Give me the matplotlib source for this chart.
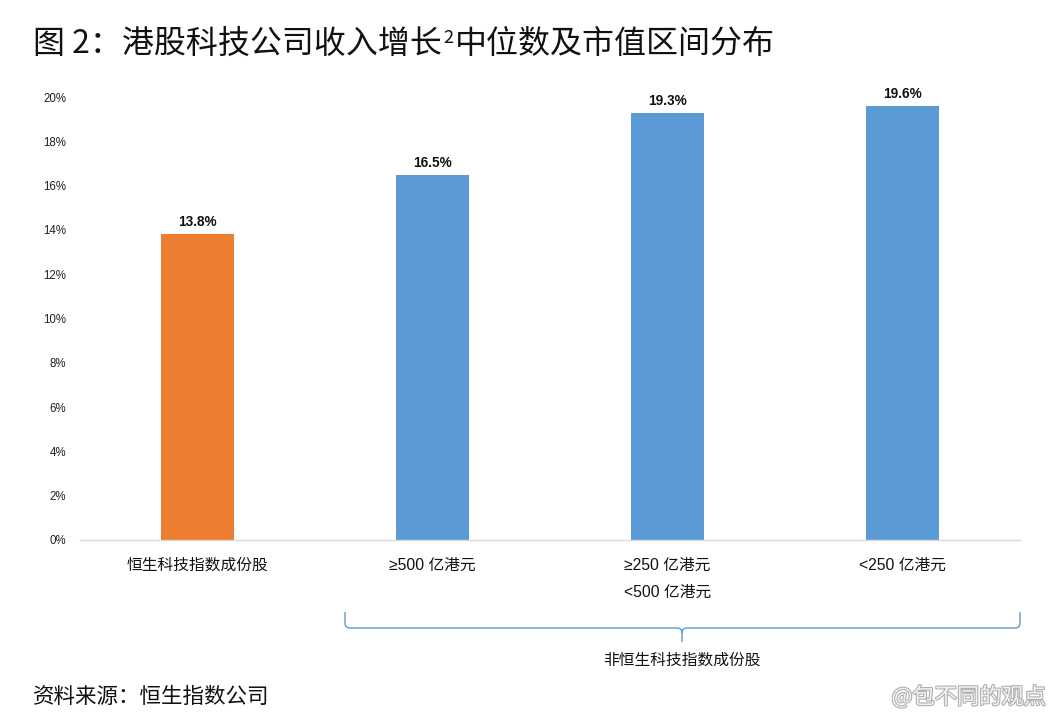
import matplotlib
matplotlib.use("Agg")
import matplotlib.pyplot as plt
from matplotlib.path import Path
from matplotlib.patches import PathPatch
import matplotlib.patheffects as pe

categories = ["恒生科技指数成份股", "≥500 亿港元", "≥250 亿港元\n<500 亿港元", "<250 亿港元"]
values = [13.8, 16.5, 19.3, 19.6]
value_labels = ["13.8%", "16.5%", "19.3%", "19.6%"]
bar_colors = ["#ED7D31", "#5B9BD5", "#5B9BD5", "#5B9BD5"]
yticks = [0, 2, 4, 6, 8, 10, 12, 14, 16, 18, 20]
ytick_labels = [f"{v}%" for v in yticks]
title_a = "图 2：港股科技公司收入增长"
title_sup = "2"
title_b = "中位数及市值区间分布"
group_label = "非恒生科技指数成份股"
source = "资料来源：恒生指数公司"
watermark = "@包不同的观点"

CJK = ["Noto Sans CJK SC", "DejaVu Sans"]
LAT = ["Liberation Sans", "DejaVu Sans"]
MIX = ["Liberation Sans", "Noto Sans CJK SC", "DejaVu Sans"]

W, H = 1056, 728
fig = plt.figure(figsize=(W / 100, H / 100), dpi=100)
fig.patch.set_facecolor("white")

def fx(px):
    return px / W

def fy(py):
    return 1 - py / H

ax = fig.add_axes([fx(80), fy(540), fx(1020) - fx(80), fy(97) - fy(540)])
x = list(range(len(categories)))
ax.bar(x, values, width=0.31, color=bar_colors, zorder=2)
ax.set_xlim(-0.5, 3.5)
ax.set_ylim(0, 20)
ax.set_yticks(yticks)
ax.set_yticklabels(ytick_labels, family=LAT, fontsize=8.3, color="#222222")
ax.set_xticks(x)
ax.set_xticklabels(categories, family=MIX, fontsize=11.3, color="#111111",
                   linespacing=1.95, va="top")
ax.tick_params(axis="both", length=0)
ax.tick_params(axis="y", pad=10)
ax.tick_params(axis="x", pad=13)
for s in ["top", "right", "left"]:
    ax.spines[s].set_visible(False)
ax.spines["bottom"].set_color("#d9d9d9")
ax.spines["bottom"].set_linewidth(1.0)

for xi, v, lab in zip(x, values, value_labels):
    ax.annotate(lab, (xi, v), xytext=(0, 3.5), textcoords="offset points",
                ha="center", va="bottom", family=LAT, fontsize=9.8,
                fontweight="bold", color="#111111")

# title
t1 = fig.text(fx(33), fy(44), title_a, family=CJK, fontsize=23, fontweight="light",
              color="#111111", va="center", ha="left")
t2 = ax.annotate(title_sup, xy=(1, 1), xycoords=t1, xytext=(1, -1),
                 textcoords="offset points", family=CJK, fontsize=13,
                 fontweight="light", color="#111111", va="top", ha="left",
                 annotation_clip=False)
ax.annotate(title_b, xy=(1, 0), xycoords=(t2, t1), xytext=(1, 0),
            textcoords="offset points", family=CJK, fontsize=23,
            fontweight="light", color="#111111", va="bottom", ha="left",
            annotation_clip=False)

# bracket
x0, x1, xc = fx(345), fx(1020), fx(682)
ytop, ymid, ytip = fy(612), fy(628), fy(642)
r = 5 / W
ry = 5 / H
verts = [
    (x0, ytop), (x0, ymid + ry), (x0, ymid), (x0 + r, ymid),
    (xc - r, ymid), (xc, ymid), (xc, ymid - ry),
    (xc, ytip),
    (xc, ymid - ry), (xc, ymid), (xc + r, ymid),
    (x1 - r, ymid), (x1, ymid), (x1, ymid + ry), (x1, ytop),
]
codes = [Path.MOVETO, Path.LINETO, Path.CURVE3, Path.CURVE3,
         Path.LINETO, Path.CURVE3, Path.CURVE3,
         Path.LINETO,
         Path.MOVETO, Path.CURVE3, Path.CURVE3,
         Path.LINETO, Path.CURVE3, Path.CURVE3, Path.LINETO]
fig.add_artist(PathPatch(Path(verts, codes), transform=fig.transFigure,
                         facecolor="none", edgecolor="#5B9BD5", linewidth=1.0))

fig.text(xc, fy(660), group_label, family=CJK, fontsize=11.3, color="#111111",
         ha="center", va="center")

fig.text(fx(33), fy(697), source, family=CJK, fontsize=15.5, fontweight="light",
         color="#111111", ha="left", va="center")

fig.text(fx(1046), fy(697), watermark, family=CJK, fontsize=16, color="#f2f2f2",
         ha="right", va="center",
         path_effects=[pe.withStroke(linewidth=1.6, foreground="#b0b0b0")])

fig.savefig("out.png", dpi=100, facecolor="white")
